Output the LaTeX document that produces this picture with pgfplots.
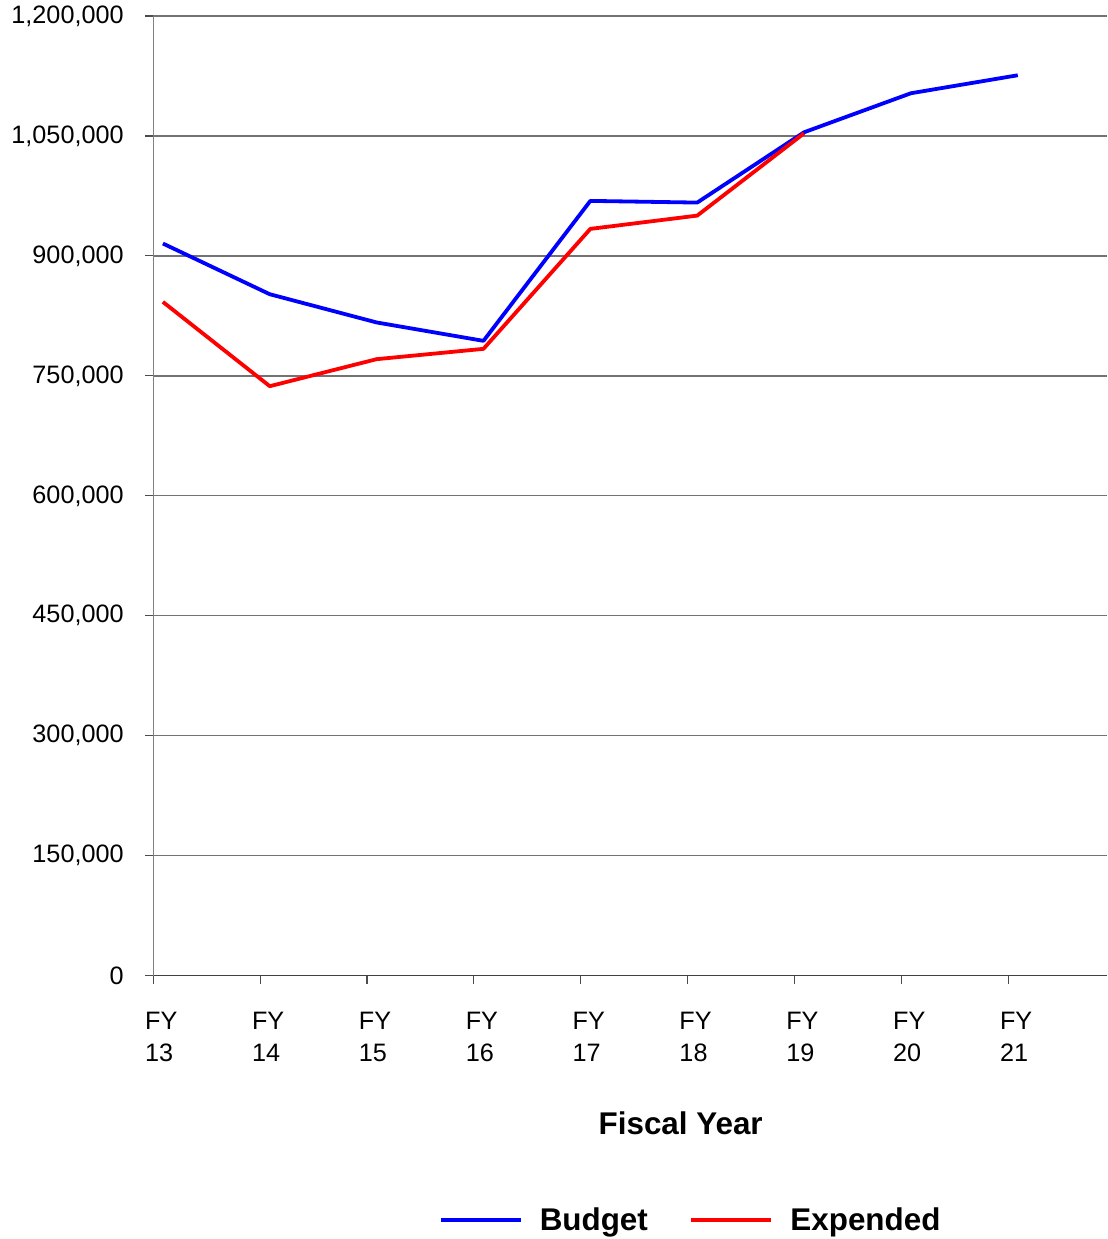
\documentclass[border=0pt]{standalone}
\usepackage{pgfplots}
\pgfplotsset{compat=1.18}
\usepackage{fontspec}
\setmainfont{Liberation Sans}
\definecolor{gridgray}{rgb}{0.45,0.45,0.45}
\definecolor{axisgray}{rgb}{0.5,0.5,0.5}
\definecolor{budgetblue}{rgb}{0,0,1}
\definecolor{expred}{rgb}{1,0,0}
\newcommand\tickfont{\fontsize{25.3}{31.7}\selectfont}
\newcommand\titlefont{\fontsize{31.5}{36}\selectfont\bfseries}
\begin{document}
\begin{tikzpicture}
\begin{axis}[
  scale only axis,
  width=953.7bp, height=959.7bp,
  xmin=0, xmax=8.925,
  ymin=0, ymax=1200000,
  axis x line*=bottom,
  axis y line*=left,
  x axis line style={draw=black!75, line width=1.3bp},
  y axis line style={draw=axisgray, line width=1.3bp},
  xtick={0,...,8},
  xticklabels={{FY\\13},{FY\\14},{FY\\15},{FY\\16},{FY\\17},{FY\\18},{FY\\19},{FY\\20},{FY\\21}},
  ytick={0,150000,...,1200000},
  scaled y ticks=false,
  /pgf/number format/fixed,
  /pgf/number format/1000 sep={,},
  /pgf/number format/assume math mode=true,
  tick align=outside,
  major tick length=8.5bp,
  tick style={draw=black!70, line width=1.1bp},
  ymajorgrids,
  major grid style={draw=gridgray, line width=1.3bp},
  ticklabel style={font=\tickfont},
  xticklabel style={align=left, anchor=north west, inner sep=0pt, xshift=-8.3bp, yshift=-28bp},
  yticklabel style={anchor=east, inner sep=0pt, xshift=-21bp},
  xlabel={Fiscal Year},
  xlabel style={font=\titlefont, at={(axis description cs:0.553,0)}, anchor=base, yshift=-159.2bp},
  legend columns=2,
  legend style={draw=none, fill=none, font=\titlefont,
    at={(axis description cs:0.5623,0)}, anchor=center, yshift=-244bp,
    /tikz/every odd column/.append style={column sep=17.3bp},
    /tikz/every even column/.append style={column sep=41.5bp},
    nodes={inner sep=0pt}},
  legend image code/.code={\draw[#1, line width=3.8bp] (0bp,0bp) -- (80bp,0bp);},
  every axis plot/.append style={line width=3.8bp, line join=round},
]
\coordinate (bl) at (rel axis cs:0,0);
% Budget
\addplot[budgetblue] coordinates {
  (0.09,915500) (1.09,852100) (2.09,816800) (3.09,793800) (4.09,968800)
  (5.09,966700) (6.09,1054600) (7.09,1103400) (8.09,1125900)
};
\addlegendentry{Budget}
% Expended
\addplot[expred] coordinates {
  (0.09,842500) (1.09,737100) (2.09,770900) (3.09,783800) (4.09,933800)
  (5.09,950400) (6.09,1053300)
};
\addlegendentry{Expended}
\end{axis}
\path (bl) ++(-153.3bp,-263.3bp) rectangle ++(1107bp,1239bp);
\end{tikzpicture}
\end{document}
